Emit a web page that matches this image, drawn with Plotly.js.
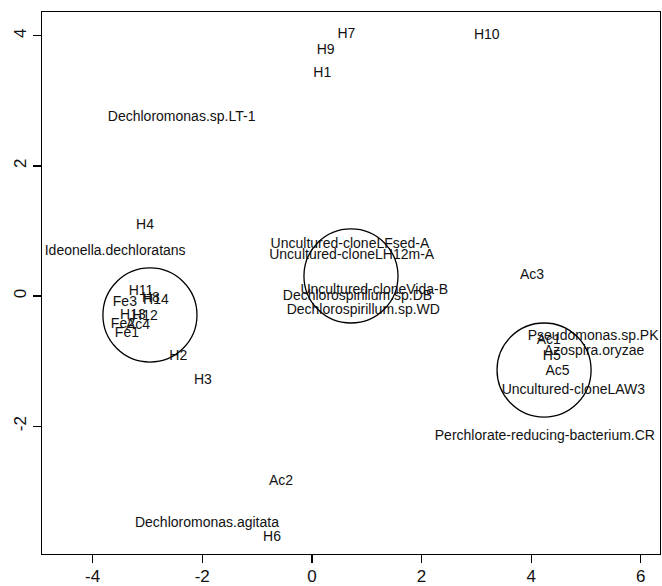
<!DOCTYPE html>
<html>
<head>
<meta charset="utf-8">
<script src="https://cdn.plot.ly/plotly-3.0.1.min.js"></script>
<style>html,body{margin:0;padding:0;background:#fff;} #chart{width:662px;height:586px;}</style>
</head>
<body>
<div id="chart"></div>
<script>
var labels = ["H7","H9","H1","H10","Dechloromonas.sp.LT-1","H4","Ideonella.dechloratans",
  "Uncultured-cloneLFsed-A","Uncultured-cloneLH12m-A","Uncultured-cloneVida-B","Dechlorospirillum.sp.DB","Dechlorospirillum.sp.WD",
  "Ac3","Pseudomonas.sp.PK","Ac1","Azospira.oryzae","H5","Ac5","Uncultured-cloneLAW3","Perchlorate-reducing-bacterium.CR",
  "Ac2","Dechloromonas.agitata","H6","H2","H3",
  "H11","H8","H14","Fe3","H13","H12","Fe2","Ac4","Fe1"];
var xVals = [0.63,0.25,0.19,3.19,-2.376,-3.044,-3.588,
  0.695,0.726,1.137,0.832,0.938,
  4.015,5.13,4.32,5.148,4.376,4.48,4.77,4.25,
  -0.564,-1.914,-0.728,-2.438,-1.987,
  -3.117,-2.936,-2.845,-3.411,-3.265,-3.046,-3.447,-3.173,-3.374];
var yVals = [4.015,3.77,3.415,4.005,2.75,1.077,0.682,
  0.785,0.63,0.082,-0.01,-0.215,
  0.323,-0.626,-0.688,-0.846,-0.934,-1.165,-1.457,-2.154,
  -2.846,-3.49,-3.71,-0.923,-1.292,
  0.077,-0.031,-0.062,-0.1,-0.292,-0.308,-0.431,-0.446,-0.569];

var circleX = [-2.954, 0.713, 4.235];
var circleY = [-0.292, 0.308, -1.138];
var circleRx = [0.858, 0.858, 0.858];
var circleRy = [0.723, 0.723, 0.723];

var xTicks = [-4,-2,0,2,4,6];
var yTicks = [-2,0,2,4];

var shapes = circleX.map(function(cx,i){
  return {type:'circle', xref:'x', yref:'y',
    x0: cx - circleRx[i], x1: cx + circleRx[i],
    y0: circleY[i] - circleRy[i], y1: circleY[i] + circleRy[i],
    line:{color:'#000', width:1.3}, fillcolor:'rgba(0,0,0,0)'};
});

var trace = {x:xVals, y:yVals, text:labels, mode:'text', type:'scatter',
  textposition:'middle center',
  textfont:{family:'Liberation Sans, Arial, sans-serif', size:14, color:'#111'},
  hoverinfo:'none', cliponaxis:false};

var axisCommon = {showgrid:false, zeroline:false, showline:true, mirror:true,
  linecolor:'#000', linewidth:1.3, ticks:'outside', ticklen:8, tickwidth:1.3, tickcolor:'#000',
  tickfont:{family:'Liberation Sans, Arial, sans-serif', size:17, color:'#111'}, fixedrange:true};

var layout = {
  width:662, height:586,
  margin:{l:42, r:2, t:12, b:32, pad:0},
  paper_bgcolor:'#fff', plot_bgcolor:'#fff',
  showlegend:false,
  xaxis: Object.assign({}, axisCommon, {range:[-4.923,6.35], tickvals:xTicks, ticktext:xTicks.map(String), ticklabelstandoff:-2}),
  yaxis: Object.assign({}, axisCommon, {range:[-3.965,4.365], tickvals:yTicks, ticktext:yTicks.map(String), tickangle:-90}),
  shapes: shapes
};
Plotly.newPlot('chart',[trace],layout,{displayModeBar:false, staticPlot:true});
</script>
</body>
</html>
